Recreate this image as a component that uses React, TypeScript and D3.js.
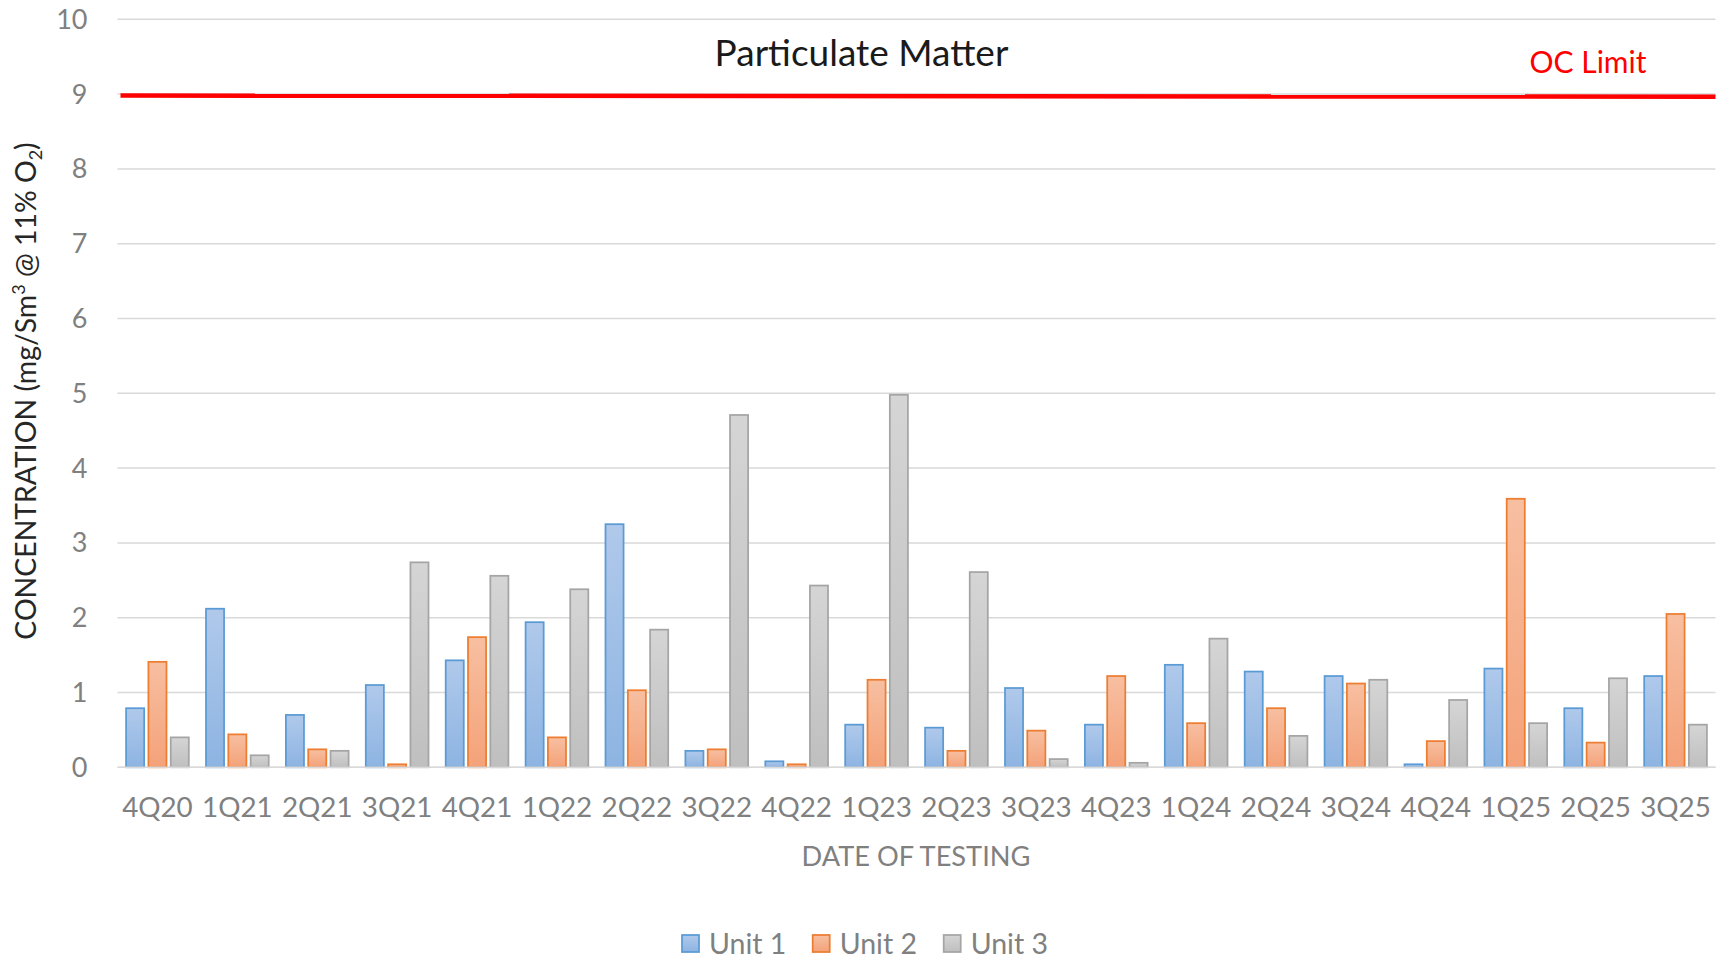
import React from 'react';
import * as d3 from 'd3';

const categories = ['4Q20','1Q21','2Q21','3Q21','4Q21','1Q22','2Q22','3Q22','4Q22','1Q23','2Q23','3Q23','4Q23','1Q24','2Q24','3Q24','4Q24','1Q25','2Q25','3Q25'];
const unit1 = [0.79, 2.12, 0.70, 1.10, 1.43, 1.94, 3.25, 0.22, 0.08, 0.57, 0.53, 1.06, 0.57, 1.37, 1.28, 1.22, 0.04, 1.32, 0.79, 1.22];
const unit2 = [1.41, 0.44, 0.24, 0.04, 1.74, 0.40, 1.03, 0.24, 0.04, 1.17, 0.22, 0.49, 1.22, 0.59, 0.79, 1.12, 0.35, 3.59, 0.33, 2.05];
const unit3 = [0.40, 0.16, 0.22, 2.74, 2.56, 2.38, 1.84, 4.71, 2.43, 4.98, 2.61, 0.11, 0.06, 1.72, 0.42, 1.17, 0.90, 0.59, 1.19, 0.57];
const seriesNames = ['Unit 1', 'Unit 2', 'Unit 3'];
const yTicks = [0, 1, 2, 3, 4, 5, 6, 7, 8, 9, 10];
const limitStart = 8.98;
const limitEnd = 8.965;

const seriesStyle = [
  { stroke: '#5b9bd5', top: '#b0c9eb', bottom: '#8db4e2' },
  { stroke: '#ed7d31', top: '#f7bfa1', bottom: '#f4a279' },
  { stroke: '#a5a5a5', top: '#d5d5d5', bottom: '#bfbfbf' },
];

const FONT = 'Lato, "Open Sans", sans-serif';

export default function App() {
  const W = 1722, H = 959;
  const left = 117.5, right = 1715.5;
  const y = d3.scaleLinear().domain([0, 10]).range([767.3, 19.3]);
  const x0 = d3.scaleBand<string>().domain(categories).range([left, right]).paddingInner(0.215).paddingOuter(0.1075);
  const x1 = d3.scaleBand<string>().domain(seriesNames).range([0, x0.bandwidth()]).paddingInner(0.19).paddingOuter(0);
  const series = [unit1, unit2, unit3];

  const limitX0 = 120.5;
  return (
    <svg width={W} height={H} style={{ position: 'absolute', left: 0, top: 0, display: 'block', background: '#fff' }} fontFamily={FONT}>
      <defs>
        {seriesStyle.map((s, i) => (
          <linearGradient key={i} id={`g${i}`} x1="0" y1="0" x2="0" y2="1">
            <stop offset="0" stopColor={s.top} />
            <stop offset="1" stopColor={s.bottom} />
          </linearGradient>
        ))}
      </defs>
      <rect width={W} height={H} fill="#fff" />
      {yTicks.map(t => (
        <g key={t}>
          <line x1={left} x2={right} y1={y(t)} y2={y(t)} stroke="#d9d9d9" strokeWidth={1.5} />
          <text x={87.5} y={y(t) + 9.5} textAnchor="end" fontSize={27} fill="#808080">{t}</text>
        </g>
      ))}
      {categories.map((c, ci) => (
        <g key={c}>
          {series.map((vals, si) => {
            const bx = (x0(c) as number) + (x1(seriesNames[si]) as number);
            const by = y(vals[ci]);
            return (
              <rect key={si} x={bx} y={by} width={x1.bandwidth()} height={y(0) - by}
                fill={`url(#g${si})`} stroke={seriesStyle[si].stroke} strokeWidth={1.75} />
            );
          })}
          <text x={(x0(c) as number) + x0.bandwidth() / 2} y={817} textAnchor="middle" fontSize={27.8} fill="#808080">{c}</text>
        </g>
      ))}
      <line x1={left} x2={right} y1={y(0)} y2={y(0)} stroke="#d9d9d9" strokeWidth={1.5} />
      <line x1={limitX0} x2={right} y1={y(limitStart)} y2={y(limitEnd)} stroke="#ff0000" strokeWidth={4.5} />
      <text x={861.5} y={66} textAnchor="middle" fontSize={37} fill="#1a1a1a">Particulate Matter</text>
      <text x={1588} y={73} textAnchor="middle" fontSize={30} fill="#ff0000">OC Limit</text>
      <text x={916} y={866} textAnchor="middle" fontSize={27.2} fill="#808080">DATE OF TESTING</text>
      <text transform={`translate(36,391) rotate(-90)`} textAnchor="middle" fontSize={28.4} fill="#262626">
        CONCENTRATION (mg/Sm<tspan dy={-11} fontSize={18}>3</tspan><tspan dy={11}> @ 11% O</tspan><tspan dy={6} fontSize={18}>2</tspan><tspan dy={-6}>)</tspan>
      </text>
      {seriesNames.map((n, i) => {
        const lx = [682, 812.7, 943.7][i];
        return (
          <g key={n}>
            <rect x={lx} y={935} width={17} height={17} fill={`url(#g${i})`} stroke={seriesStyle[i].stroke} strokeWidth={1.75} />
            <text x={lx + 27} y={953.5} fontSize={28.5} fill="#808080">{n}</text>
          </g>
        );
      })}
    </svg>
  );
}
